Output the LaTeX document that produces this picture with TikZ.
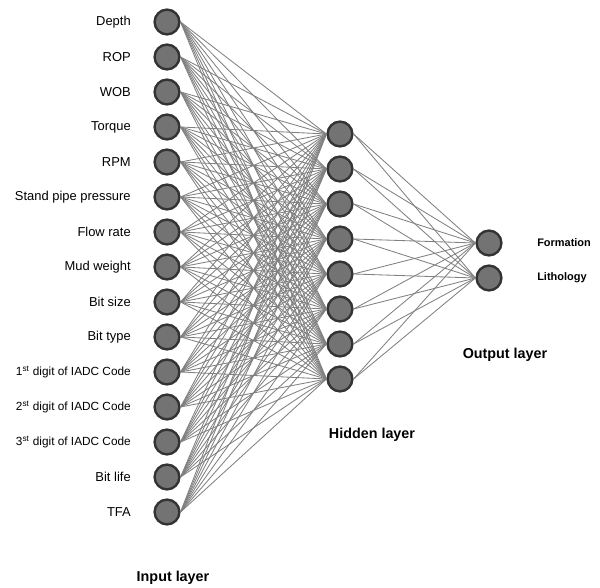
\documentclass[tikz,border=0pt]{standalone}
\usepackage{fontspec}
\setmainfont{Liberation Sans}

\tikzstyle{neuron}=[circle, draw=black!80, fill=black!55, line width=0.06cm,
                    minimum size=0.62cm, inner sep=0]
\tikzstyle{feature}=[anchor=east, inner sep=0, font=\fontsize{9.2}{10}\selectfont]
\tikzstyle{code}=[anchor=east, inner sep=0, font=\fontsize{8.4}{9}\selectfont]
\tikzstyle{target}=[anchor=west, inner sep=0, font=\fontsize{7.8}{9}\selectfont\bfseries]
\tikzstyle{layer}=[font=\fontsize{10.2}{12}\selectfont\bfseries]
\tikzstyle{link}=[black!50, line width=0.6pt]

\begin{document}
\begin{tikzpicture}
\useasboundingbox (0,0) rectangle (15,14.7);
%%%%%%%%%%%%%%%%%%%%%%%%%%%%%%
% nodes

% input
\node (in1) at (4.175, 14.15) [neuron] {};
\node (in2) at (4.175, 13.275) [neuron] {};
\node (in3) at (4.175, 12.4) [neuron] {};
\node (in4) at (4.175, 11.525) [neuron] {};
\node (in5) at (4.175, 10.65) [neuron] {};
\node (in6) at (4.175, 9.775) [neuron] {};
\node (in7) at (4.175, 8.9) [neuron] {};
\node (in8) at (4.175, 8.025) [neuron] {};
\node (in9) at (4.175, 7.15) [neuron] {};
\node (in10) at (4.175, 6.275) [neuron] {};
\node (in11) at (4.175, 5.4) [neuron] {};
\node (in12) at (4.175, 4.525) [neuron] {};
\node (in13) at (4.175, 3.65) [neuron] {};
\node (in14) at (4.175, 2.775) [neuron] {};
\node (in15) at (4.175, 1.9) [neuron] {};

\node (depth) at (3.275, 14.15) [feature] {Depth};
\node (rop) at (3.275, 13.275) [feature] {ROP};
\node (wob) at (3.275, 12.4) [feature] {WOB};
\node (torque) at (3.275, 11.525) [feature] {Torque};
\node (rpm) at (3.275, 10.65) [feature] {RPM};
\node (spp) at (3.275, 9.775) [feature] {Stand pipe pressure};
\node (flow) at (3.275, 8.9) [feature] {Flow rate};
\node (mud) at (3.275, 8.025) [feature] {Mud weight};
\node (bitsize) at (3.275, 7.15) [feature] {Bit size};
\node (bittype) at (3.275, 6.275) [feature] {Bit type};
\node (iadc1) at (3.275, 5.4) [code] {1\textsuperscript{st} digit of IADC Code};
\node (iadc2) at (3.275, 4.525) [code] {2\textsuperscript{st} digit of IADC Code};
\node (iadc3) at (3.275, 3.65) [code] {3\textsuperscript{st} digit of IADC Code};
\node (bitlife) at (3.275, 2.775) [feature] {Bit life};
\node (tfa) at (3.275, 1.9) [feature] {TFA};

% hidden
\node (hid1) at (8.5, 11.35) [neuron] {};
\node (hid2) at (8.5, 10.475) [neuron] {};
\node (hid3) at (8.5, 9.6) [neuron] {};
\node (hid4) at (8.5, 8.725) [neuron] {};
\node (hid5) at (8.5, 7.85) [neuron] {};
\node (hid6) at (8.5, 6.975) [neuron] {};
\node (hid7) at (8.5, 6.1) [neuron] {};
\node (hid8) at (8.5, 5.225) [neuron] {};

% output
\node (out1) at (12.225, 8.625) [neuron] {};
\node (out2) at (12.225, 7.75) [neuron] {};

\node (formation) at (13.425, 8.625) [target] {Formation};
\node (lithology) at (13.425, 7.75) [target] {Lithology};

% layer names
\node (input_layer) at (4.325, 0.25) [layer] {Input layer};
\node (hidden_layer) at (9.3, 3.825) [layer] {Hidden layer};
\node (output_layer) at (12.625, 5.825) [layer] {Output layer};

%%%%%%%%%%%%%%%%%%%%%%%%%%%%%%
% links

\foreach \i in {1,...,15}
  \foreach \j in {1,...,8}
    \draw [link] (in\i.east) -- (hid\j.west);

\foreach \j in {1,...,8}
  \foreach \k in {1,2}
    \draw [link] (hid\j.east) -- (out\k.west);

\end{tikzpicture}
\end{document}
